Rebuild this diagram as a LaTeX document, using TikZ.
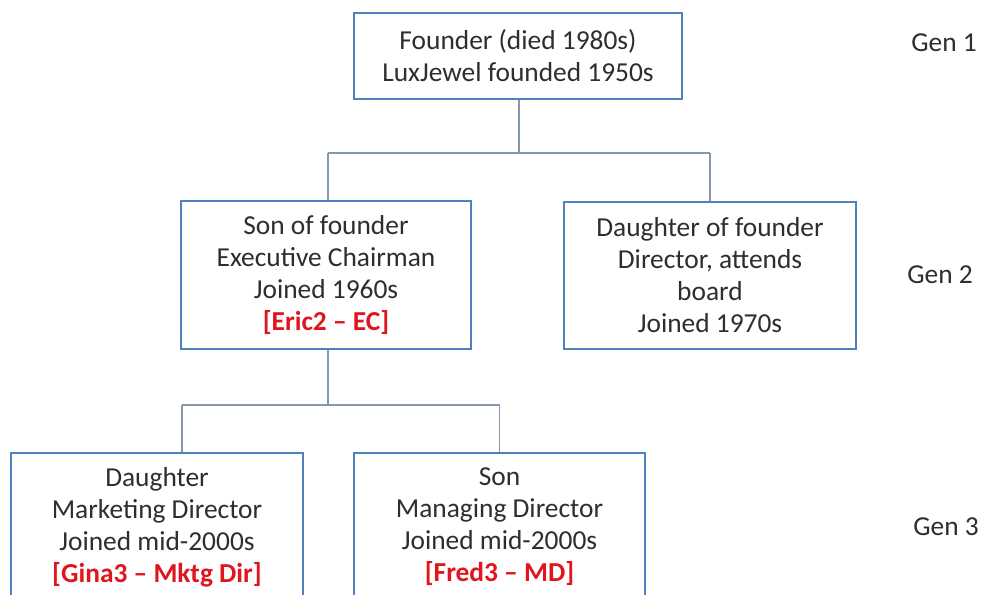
\documentclass[tikz,border=0pt]{standalone}
\usepackage{fontspec}
\setmainfont{Carlito}
\begin{document}
\definecolor{boxblue}{HTML}{4F81BD}
\definecolor{linkgrey}{HTML}{8497AD}
\definecolor{tagred}{HTML}{E0161E}
\newcommand{\tagline}[1]{\textcolor{tagred}{\bfseries #1}}
\begin{tikzpicture}[x=1pt,y=-1pt,
  person/.style={draw=boxblue,line width=2.8pt,fill=white,align=center,
    inner sep=0pt,font=\fontsize{27.4}{32}\selectfont,text=black!82},
  gen/.style={font=\fontsize{27.4}{32}\selectfont,text=black!82},
  link/.style={draw=linkgrey,line width=1.4pt}]
\useasboundingbox (0,0) rectangle (984,594);
\clip (0,0) rectangle (984,594);
\fill[white] (0,0) rectangle (984,594);

% generation one
\node[person,minimum width=328pt,minimum height=86pt] (founder) at (518,56)
  {Founder (died 1980s)\\LuxJewel founded 1950s};

% generation two
\node[person,minimum width=290pt,minimum height=148pt] (son2) at (326,275)
  {Son of founder\\Executive Chairman\\Joined 1960s\\\tagline{[Eric2 – EC]}};
\node[person,minimum width=292pt,minimum height=147pt] (dau2) at (710,275.5)
  {Daughter of founder\\Director, attends\\board\\Joined 1970s};

% generation three
\node[person,minimum width=292pt,minimum height=148pt] (dau3) at (157,527)
  {Daughter\\Marketing Director\\Joined mid-2000s\\\tagline{[Gina3 – Mktg Dir]}};
\node[person,minimum width=291pt,minimum height=148pt] (son3) at (499.5,527)
  {Son\\Managing Director\\Joined mid-2000s\\\tagline{[Fred3 – MD]}};

% generation labels
\node[gen] (g1) at (944,43) {Gen 1};
\node[gen] (g2) at (940,275) {Gen 2};
\node[gen] (g3) at (946,527) {Gen 3};

% connectors
\coordinate (busA) at (519,153);
\coordinate (busB) at (328,405);
\coordinate (dropL) at (182,405);
\draw[link] (founder.south -| busA) -- (busA);
\draw[link] (busA -| busB) -- (busA -| dau2.north);
\draw[link] (busA -| busB) -- (son2.north -| busB);
\draw[link] (busA -| dau2.north) -- (dau2.north);
\draw[link] (son2.south -| busB) -- (busB);
\draw[link] (dropL) -- (busB -| son3.north);
\draw[link] (dropL) -- (dau3.north -| dropL);
\draw[link] (busB -| son3.north) -- (son3.north);
\end{tikzpicture}
\end{document}
